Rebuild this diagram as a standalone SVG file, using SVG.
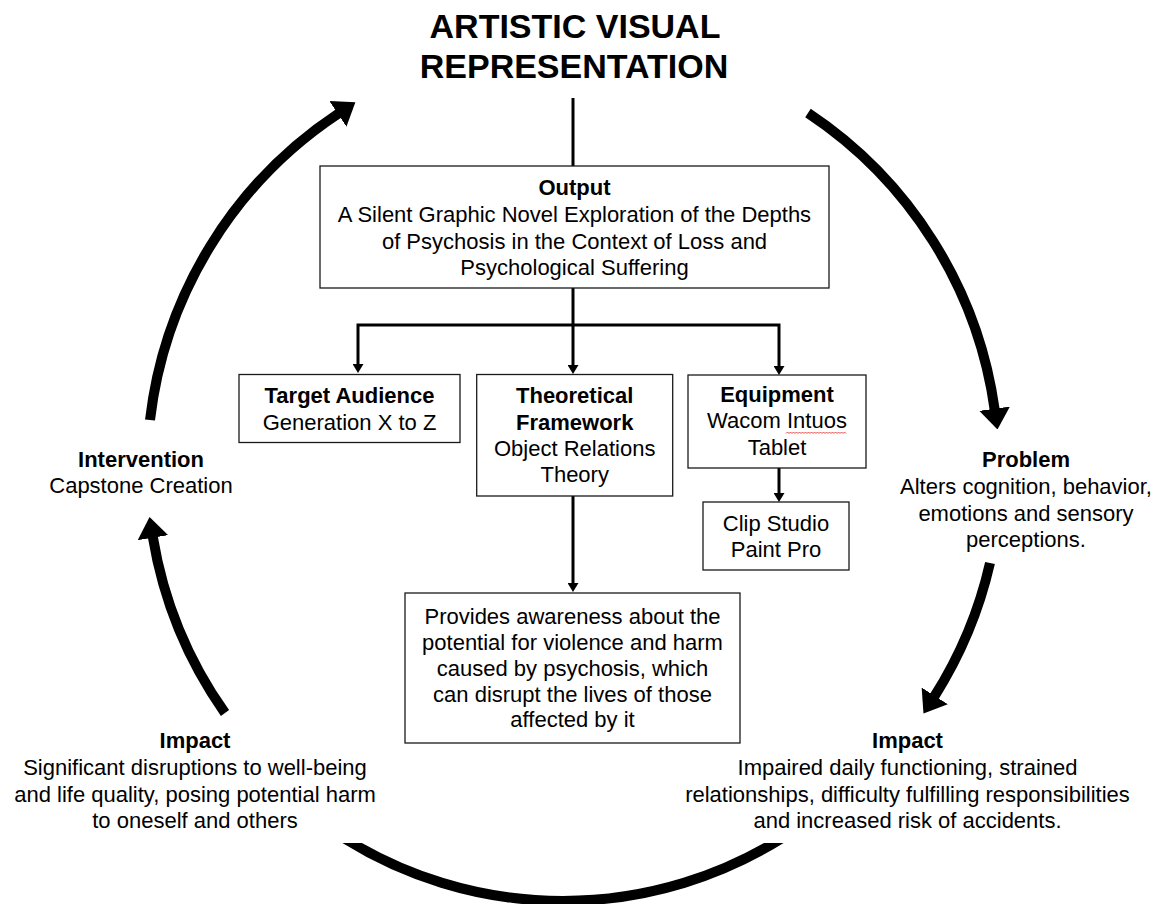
<svg xmlns="http://www.w3.org/2000/svg" width="1161" height="904" viewBox="0 0 1161 904">
<style>
text{font-family:"Liberation Sans",Arial,sans-serif;font-size:22px;fill:#000;text-anchor:middle}
.b{font-weight:bold}
.title{font-size:34px;font-weight:bold}
.box{fill:#fff;stroke:#1a1a1a;stroke-width:1.3}
.conn{fill:none;stroke:#000;stroke-width:3}
.cycle{fill:none;stroke:#000;stroke-width:10}
.spell{fill:none;stroke:#e02020;stroke-width:0.8}
</style>
<defs>
<marker id="bigHead" markerUnits="userSpaceOnUse" viewBox="0 0 21 31" markerWidth="21" markerHeight="31" refX="1" refY="15.5" orient="auto">
<path d="M0,0 L21,15.5 L0,31 z" fill="#000"/>
</marker>
<marker id="smallHead" markerUnits="userSpaceOnUse" viewBox="0 0 9 11" markerWidth="9" markerHeight="11" refX="1" refY="5.5" orient="auto-start-reverse">
<path d="M0,0 L9,5.5 L0,11 z" fill="#000"/>
</marker>
<clipPath id="clipBottom"><rect x="0" y="843" width="1161" height="61"/></clipPath>
</defs>
<rect width="1161" height="904" fill="#fff"/>

<g id="connectors">
<path class="conn" d="M573,98 V167"/>
<path class="conn" d="M573,288 V325"/>
<path class="conn" d="M358,365 V325 H779 V367" stroke-linejoin="miter" marker-start="url(#smallHead)" marker-end="url(#smallHead)"/>
<path class="conn" d="M573,325 V366" marker-end="url(#smallHead)"/>
<path class="conn" d="M779,468 V494" marker-end="url(#smallHead)"/>
<path class="conn" d="M573,496 V584" marker-end="url(#smallHead)"/>
<path class="cycle" d="M150,420 A427,427 0 0 1 338.7,113.3" marker-end="url(#bigHead)"/>
<path class="cycle" d="M808,113 A427,427 0 0 1 994.7,409.7" marker-end="url(#bigHead)"/>
<path class="cycle" d="M990,563 A427,427 0 0 1 934.2,696.7" marker-end="url(#bigHead)"/>
<path class="cycle" d="M790,833 A413,413 0 0 1 336,833" clip-path="url(#clipBottom)"/>
<path class="cycle" d="M225,713 A426,426 0 0 1 152.8,536.7" marker-end="url(#bigHead)"/>
</g>

<g id="title">
<text class="title" x="575" y="37.5">ARTISTIC VISUAL</text>
<text class="title" x="574" y="78">REPRESENTATION</text>
</g>

<g id="output">
<rect class="box" x="320" y="166" width="509" height="122"/>
<text class="b" x="574.5" y="195">Output</text>
<text x="574.5" y="222">A Silent Graphic Novel Exploration of the Depths</text>
<text x="574.5" y="248.5">of Psychosis in the Context of Loss and</text>
<text x="574.5" y="275">Psychological Suffering</text>
</g>

<g id="target-audience">
<rect class="box" x="239" y="374.5" width="221" height="68"/>
<text class="b" x="349.5" y="403.3">Target Audience</text>
<text x="349.5" y="430">Generation X to Z</text>
</g>

<g id="theoretical-framework">
<rect class="box" x="476.7" y="374.5" width="196" height="121.5"/>
<text class="b" x="574.7" y="403">Theoretical</text>
<text class="b" x="574.7" y="429.5">Framework</text>
<text x="574.7" y="456">Object Relations</text>
<text x="574.7" y="482">Theory</text>
</g>

<g id="equipment">
<rect class="box" x="688" y="375" width="178" height="93"/>
<text class="b" x="777" y="401.7">Equipment</text>
<text x="777" y="428.3">Wacom Intuos</text>
<path class="spell" d="M786,433.5 l1.5,-1.5 l1.5,1.5 l1.5,-1.5 l1.5,1.5 l1.5,-1.5 l1.5,1.5 l1.5,-1.5 l1.5,1.5 l1.5,-1.5 l1.5,1.5 l1.5,-1.5 l1.5,1.5 l1.5,-1.5 l1.5,1.5 l1.5,-1.5 l1.5,1.5 l1.5,-1.5 l1.5,1.5 l1.5,-1.5 l1.5,1.5 l1.5,-1.5 l1.5,1.5 l1.5,-1.5 l1.5,1.5 l1.5,-1.5 l1.5,1.5 l1.5,-1.5 l1.5,1.5 l1.5,-1.5 l1.5,1.5 l1.5,-1.5 l1.5,1.5 l1.5,-1.5 l1.5,1.5 l1.5,-1.5 l1.5,1.5 l1.5,-1.5 l1.5,1.5 l1.5,-1.5 l1.5,1.5"/>
<text x="777" y="455">Tablet</text>
</g>

<g id="clip-studio">
<rect class="box" x="703" y="502" width="146" height="68"/>
<text x="776" y="530.7">Clip Studio</text>
<text x="776" y="556.7">Paint Pro</text>
</g>

<g id="awareness">
<rect class="box" x="405" y="593" width="335" height="150"/>
<text x="572.5" y="624">Provides awareness about the</text>
<text x="572.5" y="650">potential for violence and harm</text>
<text x="572.5" y="676">caused by psychosis, which</text>
<text x="572.5" y="701.7">can disrupt the lives of those</text>
<text x="572.5" y="727.3">affected by it</text>
</g>

<g id="intervention">
<text class="b" x="141" y="466.5">Intervention</text>
<text x="141" y="493">Capstone Creation</text>
</g>

<g id="problem">
<text class="b" x="1026" y="467">Problem</text>
<text x="1026" y="494">Alters cognition, behavior,</text>
<text x="1026" y="520.5">emotions and sensory</text>
<text x="1026" y="547">perceptions.</text>
</g>

<g id="impact-left">
<text class="b" x="195" y="748.3">Impact</text>
<text x="195" y="775">Significant disruptions to well-being</text>
<text x="195" y="801.7">and life quality, posing potential harm</text>
<text x="195" y="828.3">to oneself and others</text>
</g>

<g id="impact-right">
<text class="b" x="907.5" y="748.3">Impact</text>
<text x="907.5" y="775">Impaired daily functioning, strained</text>
<text x="907.5" y="801.7">relationships, difficulty fulfilling responsibilities</text>
<text x="907.5" y="828.3">and increased risk of accidents.</text>
</g>
</svg>
